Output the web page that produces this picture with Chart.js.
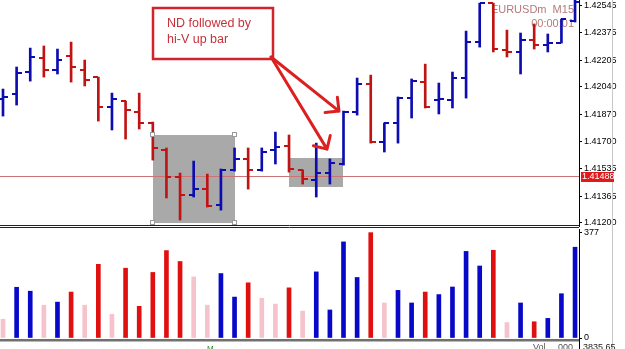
<!DOCTYPE html>
<html lang="en">
<head>
<meta charset="UTF-8">
<title>EURUSDm M15</title>
<script src="https://cdn.jsdelivr.net/npm/chart.js"></script>
<style>
  html, body { margin: 0; padding: 0; background: #fff; }
  #wrap { position: relative; width: 625px; height: 349px; overflow: hidden; }
  #priceBox { position: absolute; left: 0; top: 0; width: 625px; height: 229px; }
  #volBox { position: absolute; left: 0; top: 226px; width: 625px; height: 123px; }
</style>
</head>
<body>
<div id="wrap">
  <div id="priceBox"><canvas id="priceChart"></canvas></div>
  <div id="volBox"><canvas id="volChart"></canvas></div>
</div>
<script>
// 15 minute bars, oldest first
const opens  = [1.41967, 1.41995, 1.42131, 1.42218, 1.42143, 1.42230, 1.42143, 1.42100, 1.41915, 1.41952,
                1.41884, 1.41816, 1.41649, 1.41482, 1.41371, 1.41408, 1.41309, 1.41526, 1.41594, 1.41526,
                1.41649, 1.41674, 1.41526, 1.41464, 1.41507, 1.41563, 1.41884, 1.42057, 1.41699, 1.41816,
                1.41970, 1.42069, 1.41958, 1.41958, 1.42094, 1.42316, 1.42557, 1.42267, 1.42255, 1.42329,
                1.42298, 1.42310, 1.42446];
const highs  = [1.42026, 1.42162, 1.42279, 1.42292, 1.42273, 1.42316, 1.42205, 1.42100, 1.42001, 1.41952,
                1.42001, 1.41822, 1.41662, 1.41507, 1.41581, 1.41501, 1.41532, 1.41662, 1.41662, 1.41662,
                1.41760, 1.41742, 1.41526, 1.41692, 1.41594, 1.41890, 1.42094, 1.42112, 1.41816, 1.41977,
                1.42088, 1.42180, 1.42063, 1.42131, 1.42384, 1.42557, 1.42557, 1.42390, 1.42372, 1.42428,
                1.42366, 1.42458, 1.42607];
const lows   = [1.41859, 1.41927, 1.42075, 1.42100, 1.42119, 1.42069, 1.42045, 1.41828, 1.41773, 1.41717,
                1.41779, 1.41587, 1.41353, 1.41217, 1.41359, 1.41297, 1.41278, 1.41519, 1.41408, 1.41519,
                1.41563, 1.41513, 1.41439, 1.41359, 1.41439, 1.41556, 1.41865, 1.41692, 1.41637, 1.41692,
                1.41847, 1.41909, 1.41872, 1.41909, 1.41970, 1.42285, 1.42255, 1.42224, 1.42119, 1.42273,
                1.42255, 1.42310, 1.42440];
const closes = [1.41977, 1.42125, 1.42224, 1.42143, 1.42205, 1.42162, 1.42082, 1.41915, 1.41964, 1.41896,
                1.41816, 1.41662, 1.41482, 1.41371, 1.41408, 1.41303, 1.41526, 1.41594, 1.41526, 1.41637,
                1.41668, 1.41532, 1.41470, 1.41507, 1.41569, 1.41884, 1.42057, 1.41699, 1.41816, 1.41970,
                1.42075, 1.41915, 1.41964, 1.42094, 1.42316, 1.42557, 1.42273, 1.42255, 1.42329, 1.42298,
                1.42310, 1.42458, 1.42563];

// tick volume and its colour class (up / down / low)
const volumes = [67, 181, 167, 117, 128, 164, 117, 263, 85, 249,
                 113, 234, 312, 273, 218, 117, 230, 146, 197, 142,
                 121, 179, 96, 236, 100, 343, 216, 376, 125, 170,
                 125, 164, 155, 182, 309, 257, 313, 55, 125, 58,
                 70, 158, 324];
const volumeKinds = ['low', 'up', 'up', 'low', 'up', 'down', 'low', 'down', 'low', 'down',
                     'down', 'down', 'down', 'down', 'low', 'low', 'up', 'up', 'down', 'low',
                     'low', 'down', 'low', 'up', 'up', 'up', 'up', 'down', 'low', 'up',
                     'up', 'down', 'up', 'up', 'up', 'up', 'down', 'low', 'up', 'down',
                     'up', 'up', 'up'];

const priceTicks = [1.41200, 1.41365, 1.41535, 1.41700, 1.41870, 1.42040, 1.42205, 1.42375, 1.42545];
const volumeTicks = [0, 377];
const currentPrice = 1.41488;
const symbolText = 'EURUSDm  M15';
const timerText = '00:00:01';
const noteLines = ['ND followed by', 'hi-V up bar'];

// grey rectangles and the note, in bar index / price units
const shadeBoxes = [
  { x0: 11.0, x1: 17.05, p0: 1.41198, p1: 1.41742 },
  { x0: 21.0, x1: 24.96, p0: 1.41421, p1: 1.41600 }
];
const noteBox = { x0: 11.0, x1: 19.83, p0: 1.42211, p1: 1.42526 };
const arrowStart = { x: 19.68, p: 1.42224 };
const arrowTips = [{ x: 24.67, p: 1.41890 }, { x: 23.79, p: 1.41655 }];

const BLUE = '#0c0cb0';
const RED = '#c01414';
const volColors = { up: '#0808c8', down: '#e01010', low: '#f6c2cc' };
const tickFont = { family: '"Liberation Sans", Arial, sans-serif', size: 9 };

const xMin = -0.22, xMax = 42.29;
const barColors = opens.map((o, i) => closes[i] >= o ? BLUE : RED);

function fixAxis(scale) {
  scale.width = 46;
  scale.paddingTop = 0;
  scale.paddingBottom = 0;
}

const priceExtras = {
  id: 'priceExtras',
  beforeDatasetsDraw(chart) {
    const { ctx, chartArea: a, scales: { x, y } } = chart;
    ctx.save();
    ctx.font = '11px "Liberation Sans", Arial, sans-serif';
    ctx.fillStyle = '#b47a7a';
    ctx.textAlign = 'right';
    ctx.textBaseline = 'top';
    ctx.fillText(symbolText, a.right - 5, 4);
    ctx.fillText(timerText, a.right - 5, 18);

    ctx.fillStyle = '#a9a9a9';
    shadeBoxes.forEach(b => {
      const l = Math.round(x.getPixelForValue(b.x0));
      const r = Math.round(x.getPixelForValue(b.x1));
      const t = Math.round(y.getPixelForValue(b.p1));
      const btm = Math.round(y.getPixelForValue(b.p0));
      ctx.fillRect(l, t, r - l, btm - t);
    });

    const py = Math.round(y.getPixelForValue(currentPrice)) + 0.5;
    ctx.strokeStyle = '#cc7474';
    ctx.lineWidth = 1;
    ctx.beginPath();
    ctx.moveTo(a.left, py);
    ctx.lineTo(a.right, py);
    ctx.stroke();
    ctx.restore();
  },
  afterDatasetsDraw(chart) {
    const { ctx, chartArea: a, scales: { x, y } } = chart;
    ctx.save();
    ctx.beginPath();
    ctx.rect(a.left, a.top, a.right - a.left, a.bottom - a.top);
    ctx.clip();
    // open tick left, close tick right
    opens.forEach((o, i) => {
      const px = Math.round(x.getPixelForValue(i));
      ctx.fillStyle = barColors[i];
      ctx.fillRect(px - 5, Math.round(y.getPixelForValue(o)) - 1, 5, 2);
      ctx.fillRect(px, Math.round(y.getPixelForValue(closes[i])) - 1, 5, 2);
    });

    // selection handles of the first grey box
    const b = shadeBoxes[0];
    const corners = [[b.x0, b.p1], [b.x1, b.p1], [b.x0, b.p0], [b.x1, b.p0]];
    ctx.fillStyle = '#fff';
    ctx.strokeStyle = '#9a9a9a';
    ctx.lineWidth = 1;
    corners.forEach(([cx, cp]) => {
      const hx = Math.round(x.getPixelForValue(cx));
      const hy = Math.round(y.getPixelForValue(cp));
      ctx.fillRect(hx - 2, hy - 2, 4, 4);
      ctx.strokeRect(hx - 2.5, hy - 2.5, 4, 4);
    });

    // note box
    const nl = Math.round(x.getPixelForValue(noteBox.x0));
    const nr = Math.round(x.getPixelForValue(noteBox.x1));
    const nt = Math.round(y.getPixelForValue(noteBox.p1));
    const nb = Math.round(y.getPixelForValue(noteBox.p0));
    ctx.fillStyle = '#fff';
    ctx.fillRect(nl, nt, nr - nl, nb - nt);
    ctx.strokeStyle = '#d2222c';
    ctx.lineWidth = 2.5;
    ctx.strokeRect(nl, nt, nr - nl, nb - nt);
    ctx.fillStyle = '#c8303a';
    ctx.font = '12.5px "Liberation Sans", Arial, sans-serif';
    ctx.textAlign = 'left';
    ctx.textBaseline = 'alphabetic';
    ctx.fillText(noteLines[0], nl + 14, nt + 19);
    ctx.fillText(noteLines[1], nl + 14, nt + 35);

    // arrows
    const sx = x.getPixelForValue(arrowStart.x);
    const sy = y.getPixelForValue(arrowStart.p);
    ctx.strokeStyle = '#dc2020';
    ctx.lineWidth = 3;
    ctx.lineCap = 'round';
    arrowTips.forEach(t => {
      const tx = x.getPixelForValue(t.x);
      const ty = y.getPixelForValue(t.p);
      const ang = Math.atan2(ty - sy, tx - sx);
      ctx.beginPath();
      ctx.moveTo(sx, sy);
      ctx.lineTo(tx, ty);
      [ang + Math.PI - 0.78, ang + Math.PI + 0.78].forEach(h => {
        ctx.moveTo(tx, ty);
        ctx.lineTo(tx + 14 * Math.cos(h), ty + 14 * Math.sin(h));
      });
      ctx.stroke();
    });
    ctx.restore();
  },
  afterDraw(chart) {
    const { ctx, chartArea: a, scales: { y } } = chart;
    ctx.save();
    ctx.strokeStyle = '#c8c8c8';
    ctx.lineWidth = 1;
    ctx.beginPath();
    ctx.moveTo(612.5, 0); ctx.lineTo(612.5, chart.height);
    ctx.stroke();
    // current price label
    const py = Math.round(y.getPixelForValue(currentPrice));
    ctx.fillStyle = '#e01a1a';
    ctx.fillRect(a.right + 2, py - 4, 33, 10);
    ctx.fillStyle = '#fff';
    ctx.font = '9px ' + tickFont.family;
    ctx.textAlign = 'left';
    ctx.textBaseline = 'middle';
    ctx.fillText(currentPrice.toFixed(5), a.right + 3, py + 1);
    // double separator above the volume window
    ctx.strokeStyle = '#222';
    ctx.beginPath();
    ctx.moveTo(0, 225.5); ctx.lineTo(a.right, 225.5);
    ctx.moveTo(0, 227.5); ctx.lineTo(a.right, 227.5);
    ctx.stroke();
    ctx.restore();
  }
};

const volExtras = {
  id: 'volExtras',
  afterDraw(chart) {
    const { ctx, chartArea: a } = chart;
    ctx.save();
    ctx.strokeStyle = '#707070';
    ctx.lineWidth = 2;
    ctx.beginPath();
    ctx.moveTo(0, a.bottom + 2); ctx.lineTo(a.right, a.bottom + 2);
    ctx.stroke();
    ctx.strokeStyle = '#b8b8b8';
    ctx.lineWidth = 1;
    ctx.beginPath();
    ctx.moveTo(0, a.bottom + 3.5); ctx.lineTo(a.right, a.bottom + 3.5);
    ctx.stroke();
    ctx.strokeStyle = '#000';
    ctx.beginPath();
    ctx.moveTo(a.right + 0.5, a.bottom); ctx.lineTo(a.right + 0.5, chart.height);
    ctx.stroke();
    ctx.strokeStyle = '#c8c8c8';
    ctx.beginPath();
    ctx.moveTo(612.5, a.top); ctx.lineTo(612.5, chart.height);
    ctx.stroke();
    ctx.font = '9px ' + tickFont.family;
    ctx.textBaseline = 'top';
    ctx.fillStyle = '#222';
    ctx.fillText('3835.65', a.right + 4, a.bottom + 5);
    ctx.fillStyle = '#555';
    ctx.fillText('Vol...  000', a.right - 46, a.bottom + 5);
    ctx.fillStyle = '#2a8a2a';
    ctx.font = '8px "Liberation Sans", Arial, sans-serif';
    ctx.fillText('M', 207, a.bottom + 7);
    ctx.restore();
  }
};

new Chart(document.getElementById('priceChart'), {
  type: 'bar',
  data: {
    datasets: [{
      data: highs.map((h, i) => ({ x: i, y: [lows[i], h] })),
      backgroundColor: barColors,
      borderWidth: 0,
      barThickness: 2
    }]
  },
  options: {
    responsive: true,
    maintainAspectRatio: false,
    animation: false,
    layout: { padding: { top: 0, bottom: 3, left: 0, right: 0 } },
    plugins: { legend: { display: false }, tooltip: { enabled: false } },
    scales: {
      x: { type: 'linear', min: xMin, max: xMax, offset: false, display: false },
      y: {
        position: 'right',
        min: 1.41180,
        max: 1.42576,
        afterBuildTicks: s => { s.ticks = priceTicks.map(v => ({ value: v })); },
        afterFit: fixAxis,
        ticks: { autoSkip: false, font: tickFont, color: '#000', padding: 2,
                 callback: v => Number(v).toFixed(5) },
        grid: { drawOnChartArea: false, tickLength: 3, color: '#000' },
        border: { color: '#000' }
      }
    }
  },
  plugins: [priceExtras]
});

new Chart(document.getElementById('volChart'), {
  type: 'bar',
  data: {
    datasets: [{
      data: volumes.map((v, i) => ({ x: i, y: v })),
      backgroundColor: volumeKinds.map(k => volColors[k]),
      borderWidth: 0,
      barThickness: 4
    }]
  },
  options: {
    responsive: true,
    maintainAspectRatio: false,
    animation: false,
    layout: { padding: { top: 3, bottom: 11, left: 0, right: 0 } },
    plugins: { legend: { display: false }, tooltip: { enabled: false } },
    scales: {
      x: { type: 'linear', min: xMin, max: xMax, offset: false, display: false },
      y: {
        position: 'right',
        min: 0,
        max: 389,
        afterBuildTicks: s => { s.ticks = volumeTicks.map(v => ({ value: v })); },
        afterFit: fixAxis,
        ticks: { autoSkip: false, font: tickFont, color: '#000', padding: 2 },
        grid: { drawOnChartArea: false, tickLength: 3, color: '#000' },
        border: { color: '#000' }
      }
    }
  },
  plugins: [volExtras]
});
</script>
</body>
</html>
